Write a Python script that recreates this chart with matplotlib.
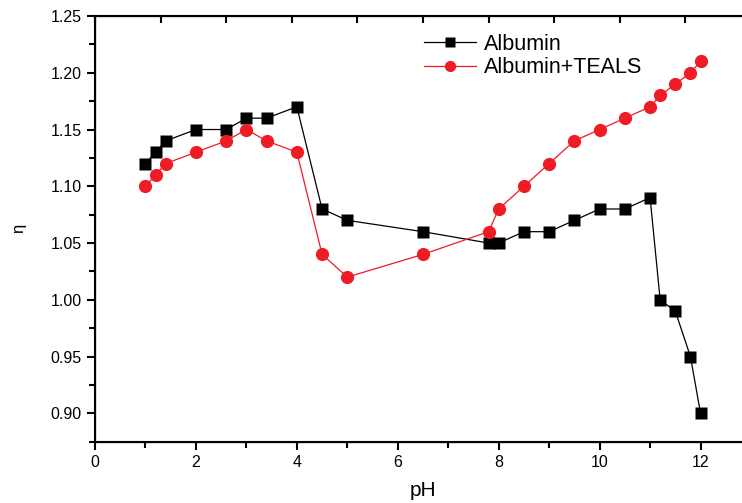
import matplotlib
matplotlib.use("Agg")
import matplotlib.pyplot as plt
import numpy as np

plt.rcParams["font.family"] = ["Liberation Sans", "DejaVu Sans"]

ph = [1, 1.2, 1.4, 2, 2.6, 3, 3.4, 4, 4.5, 5, 6.5, 7.8, 8, 8.5, 9, 9.5,
      10, 10.5, 11, 11.2, 11.5, 11.8, 12]
albumin = [1.12, 1.13, 1.14, 1.15, 1.15, 1.16, 1.16, 1.17, 1.08, 1.07, 1.06,
           1.05, 1.05, 1.06, 1.06, 1.07, 1.08, 1.08, 1.09, 1.00, 0.99, 0.95, 0.90]
albumin_teals = [1.10, 1.11, 1.12, 1.13, 1.14, 1.15, 1.14, 1.13, 1.04, 1.02,
                 1.04, 1.06, 1.08, 1.10, 1.12, 1.14, 1.15, 1.16, 1.17, 1.18,
                 1.19, 1.20, 1.21]

fig = plt.figure(figsize=(7.42, 5.03), dpi=100)
ax = fig.add_axes([95 / 742, 61.3 / 503, 656 / 742, 425.7 / 503])

ax.plot(ph, albumin, color="black", lw=0.9, marker="s", ms=8.5,
        mec="none", label="Albumin")
ax.plot(ph, albumin_teals, color="#ee1c25", lw=0.9, marker="o", ms=9.5,
        mec="none", label="Albumin+TEALS")

ax.set_xlim(0, 13)
ax.set_ylim(0.875, 1.25)
ax.set_xticks(np.arange(0, 13, 2))
ax.set_xticks(np.arange(1, 13, 2), minor=True)
ax.set_yticks(np.arange(0.90, 1.2501, 0.05))
ax.set_yticks(np.arange(0.875, 1.25, 0.05), minor=True)
ax.yaxis.set_major_formatter(matplotlib.ticker.FormatStrFormatter("%.2f"))
ax.tick_params(which="major", direction="out", length=6, width=1.5,
               labelsize=11.5, top=False, right=False)
ax.tick_params(which="minor", direction="out", length=4, width=1.5,
               top=False, right=False)
for s in ax.spines.values():
    s.set_linewidth(1.5)

ax.set_xlabel("pH", fontsize=15, labelpad=8)
ax.set_ylabel("η", fontsize=12, labelpad=18)

# top and right axes with their own ticks
axt = ax.twiny()
axt.set_xlim(ax.get_xlim())
axt.set_xticks(np.linspace(0, 13, 11))
axt.tick_params(direction="in", length=5, width=1.5, labeltop=False)
axr = ax.twinx()
axr.set_ylim(ax.get_ylim())
axr.set_yticks(np.linspace(0.875, 1.25, 6))
axr.tick_params(direction="in", length=5, width=1.5, labelright=False)

leg = ax.legend(loc="upper left", bbox_to_anchor=(0.472, 1.004), frameon=False,
                fontsize=15.5, handlelength=2.4, handletextpad=0.4,
                labelspacing=0.12, markerscale=0.85)

fig.savefig("out.png", dpi=100)
